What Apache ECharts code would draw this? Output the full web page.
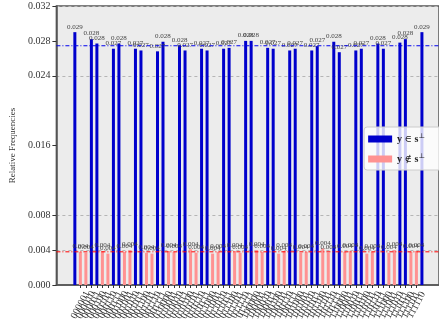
<!DOCTYPE html>
<html>
<head>
<meta charset="utf-8">
<script src="https://cdn.jsdelivr.net/npm/echarts@6/dist/echarts.min.js"></script>
<style>
  html, body { margin: 0; padding: 0; background: #fff; }
  #main { width: 439px; height: 328px; }
</style>
</head>
<body>
<div id="main"></div>
<script>
// 64 measured bitstrings, the hidden string s and the two groups of frequencies
var categories = [
  '000000','000001','000010','000011','000100','000101','000110','000111',
  '001000','001001','001010','001011','001100','001101','001110','001111',
  '010000','010001','010010','010011','010100','010101','010110','010111',
  '011000','011001','011010','011011','011100','011101','011110','011111',
  '100000','100001','100010','100011','100100','100101','100110','100111',
  '101000','101001','101010','101011','101100','101101','101110','101111',
  '110000','110001','110010','110011','110100','110101','110110','110111',
  '111000','111001','111010','111011','111100','111101','111110','111111'
];
var s = '000011';
// y in s-perp (y.s = 0), in category order
var blueValues = [
  0.0290, 0.0282, 0.0277, 0.0271, 0.0277, 0.0271, 0.0269, 0.0268,
  0.0279, 0.0275, 0.0269, 0.0271, 0.0269, 0.0271, 0.0272, 0.0280,
  0.0280, 0.0272, 0.0271, 0.0269, 0.0271, 0.0269, 0.0274, 0.0279,
  0.0267, 0.0269, 0.0271, 0.0277, 0.0271, 0.0278, 0.0282, 0.0290
];
// y not in s-perp, in category order
var pinkValues = [
  0.0038, 0.0037, 0.0039, 0.0036, 0.0038, 0.0040, 0.0037, 0.0036,
  0.0039, 0.0038, 0.0041, 0.0037, 0.0036, 0.0038, 0.0039, 0.0037,
  0.0040, 0.0038, 0.0036, 0.0039, 0.0037, 0.0038, 0.0042, 0.0037,
  0.0038, 0.0039, 0.0036, 0.0038, 0.0037, 0.0040, 0.0038, 0.0039
];
var yTicks = [0, 0.004, 0.008, 0.016, 0.024, 0.028, 0.032];

var BLUE = '#0000cc', PINK = '#ff9292';
var xMin = -3.35, xMax = 66.1;

function dot(a, b) {
  var r = 0;
  for (var k = 0; k < a.length; k++) r ^= (a[k] === '1' && b[k] === '1') ? 1 : 0;
  return r;
}
function mean(a) { return a.reduce(function (x, y) { return x + y; }, 0) / a.length; }

// one bar series, coloured per item, so bars sit exactly on their ticks
var barData = [];
var bi = 0, pi = 0;
categories.forEach(function (c, i) {
  if (dot(c, s) === 0) barData.push({ value: [i, blueValues[bi++]], itemStyle: { color: BLUE } });
  else barData.push({ value: [i, pinkValues[pi++]], itemStyle: { color: PINK } });
});

var serif = "'Liberation Serif', 'DejaVu Serif', serif";
var gridColors = [];
for (var v = 0; v <= 8; v++) {
  var val = +(v * 0.004).toFixed(3);
  gridColors.push(yTicks.indexOf(val) >= 0 && val > 0 && val < 0.032 ? '#b5b5b5' : 'rgba(0,0,0,0)');
}
var idx = categories.map(function (c, i) { return i; });

var myChart = echarts.init(document.getElementById('main'));
myChart.setOption({
  animation: false,
  textStyle: { fontFamily: serif },
  grid: {
    left: 53, right: -2, top: 6, bottom: 43, show: true,
    backgroundColor: '#ececec', borderColor: '#555', borderWidth: 1.5
  },
  legend: {
    orient: 'vertical',
    right: -10, top: 127,
    itemWidth: 24, itemHeight: 7, itemGap: 9,
    padding: [6, 24, 6, 4],
    backgroundColor: 'rgba(255,255,255,0.8)',
    borderColor: '#cccccc', borderWidth: 1, borderRadius: 3,
    icon: 'rect',
    formatter: function (name) {
      return name === 'in' ? '{b|y} ∈ {b|s}{sup|⊥}' : '{b|y} ∉ {b|s}{sup|⊥}';
    },
    textStyle: {
      fontFamily: serif, fontSize: 10, color: '#222',
      rich: {
        b: { fontFamily: serif, fontSize: 10, fontWeight: 'bold', color: '#222' },
        sup: { fontFamily: serif, fontSize: 7, color: '#222', verticalAlign: 'top', padding: [0, 0, 5, 0] }
      }
    },
    data: ['in', 'out']
  },
  xAxis: {
    type: 'value',
    min: xMin, max: xMax,
    axisLine: { lineStyle: { color: '#555', width: 1.5 } },
    axisTick: { show: true, customValues: idx, length: 3, lineStyle: { color: '#333' } },
    axisLabel: {
      customValues: idx,
      formatter: function (val) { return categories[Math.round(val)] || ''; },
      rotate: 62, align: 'center', verticalAlign: 'middle', margin: 20,
      fontSize: 10, color: '#333', fontFamily: serif
    },
    splitLine: { show: false }
  },
  yAxis: {
    type: 'value',
    min: 0, max: 0.032, interval: 0.004,
    name: 'Relative Frequencies',
    nameLocation: 'middle', nameGap: 38,
    nameTextStyle: { fontSize: 9, color: '#333', fontFamily: serif },
    axisLine: { show: true, onZero: false, lineStyle: { color: '#555', width: 1.5 } },
    axisTick: { show: true, customValues: yTicks, length: 4, lineStyle: { color: '#333' } },
    axisLabel: {
      customValues: yTicks,
      formatter: function (val) { return val.toFixed(3); },
      fontSize: 10, color: '#333', margin: 6, fontFamily: serif
    },
    splitLine: { show: true, lineStyle: { color: gridColors, type: [3, 3], width: 1 } }
  },
  series: [{
    name: 'bars',
    type: 'bar',
    barWidth: 3,
    label: {
      show: true, position: 'top', distance: 2, fontSize: 7, color: '#444', fontFamily: serif,
      formatter: function (p) { return p.value[1].toFixed(3); }
    },
    data: barData,
    z: 2
  }, {
    name: 'in', type: 'line', symbol: 'none', silent: true,
    itemStyle: { color: BLUE },
    lineStyle: { color: '#0000ee', type: [4, 2, 1, 2], width: 1 },
    data: [[xMin, mean(blueValues)], [xMax, mean(blueValues)]],
    z: 3
  }, {
    name: 'out', type: 'line', symbol: 'none', silent: true,
    itemStyle: { color: PINK },
    lineStyle: { color: '#ff0000', type: [4, 2, 1, 2], width: 1 },
    data: [[xMin, mean(pinkValues)], [xMax, mean(pinkValues)]],
    z: 3
  }]
});
</script>
</body>
</html>
